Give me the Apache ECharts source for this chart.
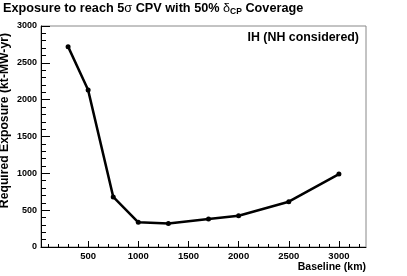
<!DOCTYPE html>
<html><head><meta charset="utf-8">
<script src="https://cdn.jsdelivr.net/npm/echarts@6/dist/echarts.min.js"></script>
<style>html,body{margin:0;padding:0;background:#fff}#c{width:407px;height:276px}</style>
</head><body><div id="c"></div>
<script>
var baselines = [300, 500, 750, 1000, 1300, 1700, 2000, 2500, 3000];
var exposure = [2720, 2130, 680, 335, 318, 380, 425, 615, 990];
var xMajorTicks = [500, 1000, 1500, 2000, 2500, 3000];
var yTicks = [0, 500, 1000, 1500, 2000, 2500, 3000];
var xMinorTicks = [];
for (var v = 100; v <= 3200; v += 100) { if (xMajorTicks.indexOf(v) < 0) xMinorTicks.push(v); }

var F = 'Liberation Sans, Arial, Helvetica, sans-serif';
var plain = function (val) { return String(val); };
var chart = echarts.init(document.getElementById('c'), null, {renderer: 'canvas'});
chart.setOption({
  animation: false,
  backgroundColor: '#fff',
  grid: {left: 41, right: 41, top: 26, bottom: 29, show: true, borderColor: '#888', borderWidth: 1, backgroundColor: 'transparent'},
  xAxis: [{
    type: 'value', min: 30, max: 3270, position: 'bottom',
    axisLine: {show: true, lineStyle: {color: '#000', width: 1}},
    axisTick: {show: true, inside: true, length: 6, customValues: xMajorTicks, lineStyle: {color: '#000'}},
    axisLabel: {show: true, customValues: xMajorTicks, formatter: plain, fontFamily: F, fontWeight: 'bold', fontSize: 9.5, color: '#000', margin: 4},
    splitLine: {show: false}
  }, {
    type: 'value', min: 30, max: 3270, position: 'bottom',
    axisLine: {show: false},
    axisTick: {show: true, inside: true, length: 3, customValues: xMinorTicks, lineStyle: {color: '#000'}},
    axisLabel: {show: false},
    splitLine: {show: false}
  }],
  yAxis: {
    type: 'value', min: yTicks[0], max: yTicks[yTicks.length - 1], interval: 500,
    axisLine: {show: true, lineStyle: {color: '#000', width: 1}},
    axisTick: {show: true, inside: true, length: 9, lineStyle: {color: '#000'}},
    minorTick: {show: true, splitNumber: 5, length: 5, lineStyle: {color: '#000'}},
    axisLabel: {formatter: plain, fontFamily: F, fontWeight: 'bold', fontSize: 9, color: '#000', margin: 4},
    splitLine: {show: false}
  },
  series: [{
    type: 'line', xAxisIndex: 0,
    data: baselines.map(function (b, i) { return [b, exposure[i]]; }),
    lineStyle: {color: '#000', width: 2.5},
    itemStyle: {color: '#000'},
    symbol: 'circle', symbolSize: 5, showSymbol: true
  }],
  graphic: [{
    type: 'text', left: 3, top: 2,
    style: {
      text: '{a|Exposure to reach 5}{s|σ}{a| CPV with 50% }{s|δ}{sub|CP}{a| Coverage}',
      rich: {
        a: {fontFamily: F, fontWeight: 'bold', fontSize: 12.7, fill: '#000'},
        s: {fontFamily: F, fontWeight: 'normal', fontSize: 12.7, fill: '#000'},
        sub: {fontFamily: F, fontWeight: 'bold', fontSize: 8.5, fill: '#000', padding: [6, 0, 0, 0]}
      }
    }
  }, {
    type: 'text', x: 359, y: 38,
    style: {text: 'IH (NH considered)', fontFamily: F, fontWeight: 'bold', fontSize: 12.4, fill: '#000', textAlign: 'right', textVerticalAlign: 'middle'}
  }, {
    type: 'text', x: 366, y: 267,
    style: {text: 'Baseline (km)', fontFamily: F, fontWeight: 'bold', fontSize: 10.5, fill: '#000', textAlign: 'right', textVerticalAlign: 'middle'}
  }, {
    type: 'text', x: 5, y: 33, rotation: Math.PI / 2,
    style: {text: 'Required Exposure (kt-MW-yr)', fontFamily: F, fontWeight: 'bold', fontSize: 12.2, fill: '#000', textAlign: 'right', textVerticalAlign: 'middle'}
  }]
});
</script></body></html>
